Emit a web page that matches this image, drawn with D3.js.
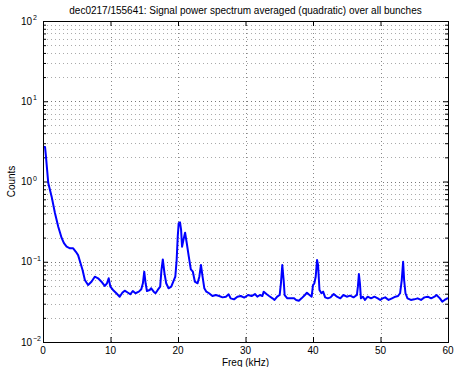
<!DOCTYPE html>
<html><head><meta charset="utf-8">
<script src="https://cdn.jsdelivr.net/npm/d3@7"></script>
<style>body{margin:0;background:#fff}svg{display:block}text{font-family:"Liberation Sans",Arial,sans-serif;fill:#000}</style>
</head><body>
<script>
const titleText = "dec0217/155641: Signal power spectrum averaged (quadratic) over all bunches";
const xLabel = "Freq (kHz)";
const yLabel = "Counts";
const xTicks = [0,10,20,30,40,50,60];
const yExponents = [-2,-1,0,1,2];
const freq = [0,0.3,0.44,0.78,1.28,1.77,2.26,2.76,3.1,3.5,4.0,4.47,4.87,5.2,5.56,5.86,6.2,6.68,7.18,7.67,8.16,8.66,9.14,9.48,9.73,9.98,10.37,10.87,11.36,11.75,12.1,12.6,12.93,13.3,13.7,14.2,14.56,14.8,15.0,15.2,15.4,15.8,16.03,16.4,16.67,17.0,17.36,17.55,17.75,18.0,18.25,18.6,19.0,19.3,19.6,19.8,19.96,20.1,20.3,20.46,20.6,20.8,21.05,21.3,21.6,21.9,22.2,22.5,22.9,23.16,23.4,23.64,23.9,24.2,24.6,25.1,25.6,26.1,26.6,27.1,27.5,27.8,28.3,28.8,29.3,29.8,30.4,30.9,31.4,31.75,32.15,32.5,32.7,33.1,33.5,34.0,34.3,34.7,35.06,35.25,35.45,35.65,35.8,36.2,36.7,37.2,37.5,37.9,38.3,38.8,39.1,39.4,39.8,40.0,40.2,40.4,40.6,40.75,40.96,41.25,41.5,41.8,42.2,42.6,43.07,43.55,44.05,44.5,45.0,45.5,46.0,46.5,46.65,46.8,46.95,47.1,47.4,47.7,48.1,48.6,49.1,49.6,49.96,50.3,50.7,51.2,51.7,52.2,52.6,52.9,53.15,53.35,53.5,53.7,54.0,54.5,55.0,55.5,56.0,56.5,57.0,57.5,58.0,58.3,58.8,59.15,59.5,59.9,60];
const counts = [2.71,2.70,2.04,0.958,0.647,0.405,0.273,0.198,0.171,0.154,0.147,0.147,0.133,0.121,0.0957,0.0789,0.0592,0.0513,0.0564,0.0651,0.0622,0.0564,0.0499,0.0539,0.0622,0.0489,0.0445,0.0405,0.0367,0.0411,0.0436,0.0411,0.0393,0.0432,0.0405,0.0424,0.0454,0.0539,0.0752,0.0539,0.0432,0.0445,0.0467,0.0424,0.0405,0.0445,0.0489,0.0789,0.107,0.0718,0.0539,0.0467,0.0489,0.0564,0.0651,0.105,0.205,0.301,0.31,0.249,0.154,0.187,0.230,0.170,0.116,0.0805,0.0752,0.0564,0.0539,0.0651,0.0911,0.0651,0.0467,0.0424,0.0405,0.0374,0.0385,0.0374,0.0360,0.0367,0.0393,0.0350,0.0340,0.0367,0.0374,0.0358,0.0385,0.0374,0.0396,0.0367,0.0385,0.0374,0.0424,0.0396,0.0374,0.0350,0.0334,0.0367,0.0385,0.0539,0.0911,0.0592,0.0385,0.0350,0.0350,0.0350,0.0334,0.0327,0.0350,0.0385,0.0411,0.0390,0.0367,0.0513,0.0539,0.0651,0.105,0.0911,0.0445,0.0405,0.0424,0.0360,0.0350,0.0360,0.0396,0.0367,0.0350,0.0385,0.0367,0.0378,0.0360,0.0385,0.0489,0.0703,0.0539,0.0350,0.0367,0.0334,0.0367,0.0350,0.0367,0.0350,0.0334,0.0350,0.0360,0.0334,0.0350,0.0367,0.0374,0.0405,0.0592,0.100,0.0592,0.0405,0.0350,0.0334,0.0340,0.0350,0.0334,0.0360,0.0367,0.0350,0.0367,0.0385,0.0350,0.0318,0.0334,0.0350,0.0345];

const W = 454, H = 367;
const L = 43, R = 448, T = 21, B = 342;
const svg = d3.select("body").append("svg").attr("width", W).attr("height", H);
const x = d3.scaleLinear().domain([0,60]).range([L,R]);
const y = d3.scaleLog().domain([0.01,100]).range([B,T]);

const minor = [];
yExponents.slice(0,-1).forEach(e => { for (let k=2;k<=9;k++) minor.push(k*Math.pow(10,e)); });
const major = yExponents.map(e => Math.pow(10,e));

const grid = svg.append("g");
grid.selectAll(".gm").data(minor).join("line")
  .attr("x1",L).attr("x2",R).attr("y1",d=>Math.round(y(d))+0.5).attr("y2",d=>Math.round(y(d))+0.5)
  .attr("stroke","#aaa").attr("stroke-width",1).attr("stroke-dasharray","1,3");
grid.selectAll(".gM").data(major.slice(1,-1)).join("line")
  .attr("x1",L).attr("x2",R).attr("y1",d=>Math.round(y(d))+0.5).attr("y2",d=>Math.round(y(d))+0.5)
  .attr("stroke","#777").attr("stroke-width",1).attr("stroke-dasharray","1,3");
grid.selectAll(".gx").data(xTicks.slice(1,-1)).join("line")
  .attr("y1",T).attr("y2",B).attr("x1",d=>Math.round(x(d))+0.5).attr("x2",d=>Math.round(x(d))+0.5)
  .attr("stroke","#888").attr("stroke-width",1).attr("stroke-dasharray","1,3");

const axB = d3.axisTop(x).tickValues(xTicks).tickSize(5).tickFormat("");
const axT = d3.axisBottom(x).tickValues(xTicks).tickSize(5).tickFormat("");
const axL = d3.axisRight(y).tickValues(major).tickSize(5).tickFormat("");
const axR = d3.axisLeft(y).tickValues(major).tickSize(5).tickFormat("");
const axLm = d3.axisRight(y).tickValues(minor).tickSize(3).tickFormat("");
const axRm = d3.axisLeft(y).tickValues(minor).tickSize(3).tickFormat("");
[[axB,`translate(0,${B})`],[axT,`translate(0,${T})`],[axL,`translate(${L},0)`],[axR,`translate(${R},0)`],[axLm,`translate(${L},0)`],[axRm,`translate(${R},0)`]].forEach(([a,t])=>{
  const g = svg.append("g").attr("transform",t).call(a);
  g.select(".domain").remove();
  g.selectAll("line").attr("stroke","#000").attr("stroke-width",1);
});

svg.append("g").selectAll("text").data(xTicks).join("text")
  .attr("x",d=>x(d)).attr("y",B+12).attr("text-anchor","middle").attr("font-size",10).text(d=>d);
svg.append("g").selectAll("text").data(yExponents).join("text")
  .attr("x",L-11).attr("y",d=>y(Math.pow(10,d))+3.5).attr("text-anchor","end").attr("font-size",10).text("10");
svg.append("g").selectAll("text").data(yExponents).join("text")
  .attr("x",L-10).attr("y",d=>y(Math.pow(10,d))-1).attr("text-anchor","start").attr("font-size",7)
  .text(d=>d<0?"\u2212"+Math.abs(d):d);

const pts = freq.map((f,i)=>[f,counts[i]]);
svg.append("path").datum(pts)
  .attr("d", d3.line().x(d=>x(d[0])).y(d=>y(d[1])))
  .attr("fill","none").attr("stroke","#0000ff").attr("stroke-width",2).attr("stroke-linejoin","round");

svg.append("rect").attr("x",L+0.5).attr("y",T+0.5).attr("width",R-L).attr("height",B-T)
  .attr("fill","none").attr("stroke","#000").attr("stroke-width",1);

svg.append("text").attr("x",(L+R)/2).attr("y",14).attr("text-anchor","middle").attr("font-size",10).text(titleText);
svg.append("text").attr("x",(L+R)/2).attr("y",B+24).attr("text-anchor","middle").attr("font-size",10).text(xLabel);
svg.append("text").attr("transform",`translate(15,${(T+B)/2}) rotate(-90)`).attr("text-anchor","middle").attr("font-size",10).text(yLabel);
</script>
</body></html>
